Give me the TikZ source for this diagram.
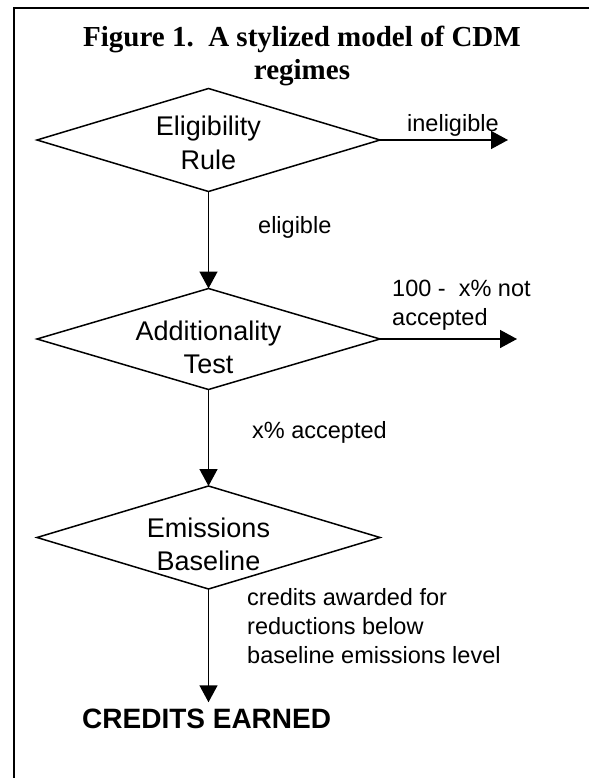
\documentclass[tikz,border=0pt]{standalone}
\usepackage{fontspec}
\setmainfont{Liberation Sans}
\newfontfamily\titleserif{Liberation Serif}
\usetikzlibrary{shapes.geometric,arrows.meta}
\begin{document}
\begin{tikzpicture}[x=1pt,y=-1pt,
  decision/.style={diamond, draw, line width=1.5pt, minimum width=343pt, minimum height=103pt, inner sep=0pt, outer sep=0pt},
  dtext/.style={align=center, anchor=base, font=\fontsize{27}{33}\selectfont, inner sep=0pt},
  lbl/.style={anchor=base west, align=left, font=\fontsize{23.5}{28.5}\selectfont, inner sep=0pt},
  flow/.style={line width=1.5pt, -{Triangle[width=18pt,length=17pt]}},
  frame/.style={line width=2pt},
]
\useasboundingbox (0,0) rectangle (589,778);
% frame
\draw[frame] (589,8.5) -- (14,8.5) -- (14,778);
% title (base = last line)
\node[align=center, anchor=base, inner sep=0pt, font=\titleserif\bfseries\fontsize{29}{33}\selectfont] (title) at (302,80) {Figure 1.\ \ A stylized model of CDM\\regimes};
% decisions
\node[decision] (d1) at (208.5,140) {};
\node[decision, minimum height=101pt] (d2) at (208.5,339) {};
\node[decision] (d3) at (208.5,537.5) {};
\node[dtext] (t1) at (208.5,169) {Eligibility\\Rule};
\node[dtext] (t2) at (208.5,373) {Additionality\\Test};
\node[dtext] (t3) at (208.5,570) {Emissions\\Baseline};
% outcome
\node[anchor=base west, inner sep=0pt, font=\bfseries\fontsize{28}{33}\selectfont] (credits) at (82,728) {CREDITS EARNED};
\coordinate (x1) at (508,140);
\coordinate (x2) at (517,339);
% connectors
\draw[flow] (d1.south) -- (d2.north);
\draw[flow] (d2.south) -- (d3.north);
\draw[flow, shorten >=6pt] (d3.south) -- (d3.south |- credits.north);
\draw[flow] (d1.east) -- (x1);
\draw[flow] (d2.east) -- (x2);
% labels (base = last line)
\node[lbl] (l1) at (407,132) {ineligible};
\node[lbl] (l2) at (258,233) {eligible};
\node[lbl] (l3) at (392,325) {100 -\ \ x\% not\\accepted};
\node[lbl] (l4) at (252,438) {x\% accepted};
\node[lbl, font=\fontsize{23.5}{29}\selectfont] (l5) at (247,663) {credits awarded for\\reductions below\\baseline emissions level};
\end{tikzpicture}
\end{document}
